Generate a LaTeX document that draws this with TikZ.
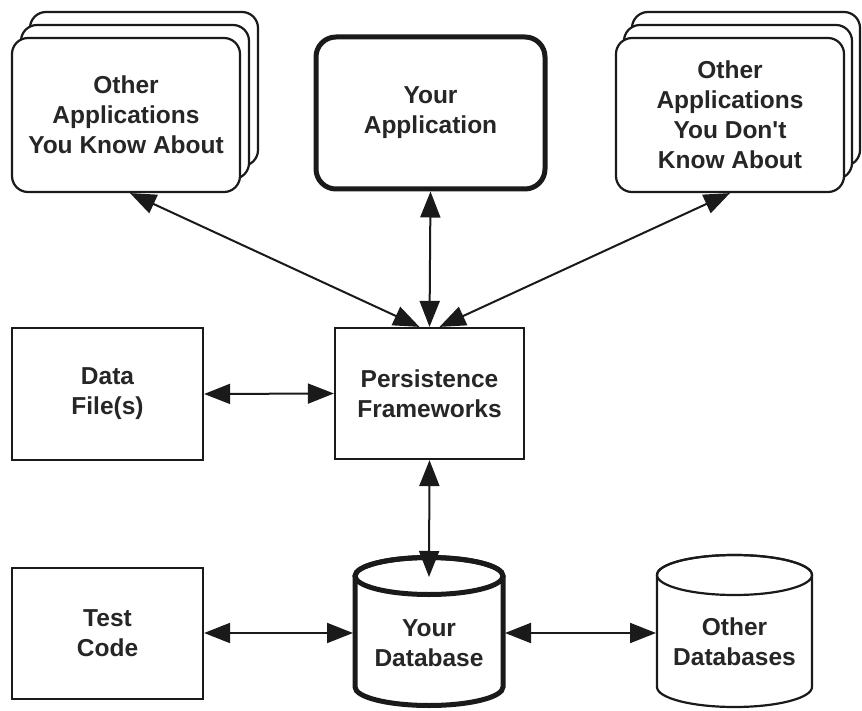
\documentclass[tikz,border=0pt]{standalone}
\usepackage{fontspec}
\setmainfont{Liberation Sans}
\usetikzlibrary{arrows.meta}
\definecolor{ink}{HTML}{1A1A1A}
\definecolor{txt}{HTML}{262626}
\tikzset{
  lbl/.style={font=\fontsize{24.5}{30}\selectfont\bfseries, text=txt, align=center},
  rbox/.style={draw=ink, line width=2.2pt, fill=white, rounded corners=16pt, inner sep=0pt, lbl},
  rboxthick/.style={rbox, line width=5pt, rounded corners=20pt},
  sbox/.style={draw=ink, line width=2.2pt, fill=white, inner sep=0pt, lbl},
  conn/.style={draw=ink, line width=2pt, {Triangle[length=26pt,width=20pt]}-{Triangle[length=26pt,width=20pt]}},
}
\begin{document}
\begin{tikzpicture}[x=1pt,y=-1pt]
\useasboundingbox (0,0) rectangle (862,711);
% left stack
\node[rbox, minimum width=228pt, minimum height=154pt] (oab) at (144,89) {};
\node[rbox, minimum width=228pt, minimum height=154pt] (oam) at (135,102) {};
\node[rbox, minimum width=228pt, minimum height=154pt] (oa) at (126,115) {Other\\Applications\\You Know About};
% your application
\node[rboxthick, minimum width=229pt, minimum height=152pt] (ya) at (430.5,113) {Your\\Application};
% right stack
\node[rbox, minimum width=228pt, minimum height=154pt] (oub) at (746,89) {};
\node[rbox, minimum width=228pt, minimum height=154pt] (oum) at (738,102) {};
\node[rbox, minimum width=228pt, minimum height=154pt] (ou) at (730,115) {Other\\Applications\\You Don\textquotesingle t\\Know About};
% middle row
\node[sbox, minimum width=191pt, minimum height=132pt] (df) at (107.5,394) {Data\\File(s)};
\node[sbox, minimum width=189pt, minimum height=131pt] (pf) at (429.5,393.5) {Persistence\\Frameworks};
% bottom row
\node[sbox, minimum width=191pt, minimum height=131pt] (tc) at (107.5,633.5) {Test\\Code};
% your database cylinder
\draw[draw=ink, fill=white, line width=5pt]
  (355,576) -- (355,687) arc[start angle=180, end angle=0, x radius=74, y radius=18.5]
  -- (503,576) arc[start angle=0, end angle=-180, x radius=74, y radius=18.5] -- cycle;
\draw[draw=ink, line width=5pt] (429,576) ellipse[x radius=74, y radius=18.5];
\node[lbl] (ydb) at (429,643) {Your\\Database};
\coordinate (ydbW) at (353,633);
\coordinate (ydbE) at (505,633);
\coordinate (ydbT) at (429,577);
% other databases cylinder
\draw[draw=ink, fill=white, line width=2.2pt]
  (657,575) -- (657,687) arc[start angle=180, end angle=0, x radius=77.5, y radius=20]
  -- (812,575) arc[start angle=0, end angle=-180, x radius=77.5, y radius=20] -- cycle;
\draw[draw=ink, line width=2.2pt] (734.5,575) ellipse[x radius=77.5, y radius=20];
\node[lbl] (odb) at (734.5,642) {Other\\Databases};
\coordinate (odbW) at (656,633);
% connectors
\draw[conn] ([xshift=4pt]oa.south) -- ([xshift=-10pt]pf.north);
\draw[conn] (ya.south) -- (pf.north);
\draw[conn] (ou.south) -- ([xshift=10pt]pf.north);
\draw[conn] (df.east) -- (pf.west);
\draw[conn] (pf.south) -- (ydbT);
\draw[conn] (tc.east |- ydbW) -- (ydbW);
\draw[conn] (ydbE) -- (odbW);
\end{tikzpicture}
\end{document}
